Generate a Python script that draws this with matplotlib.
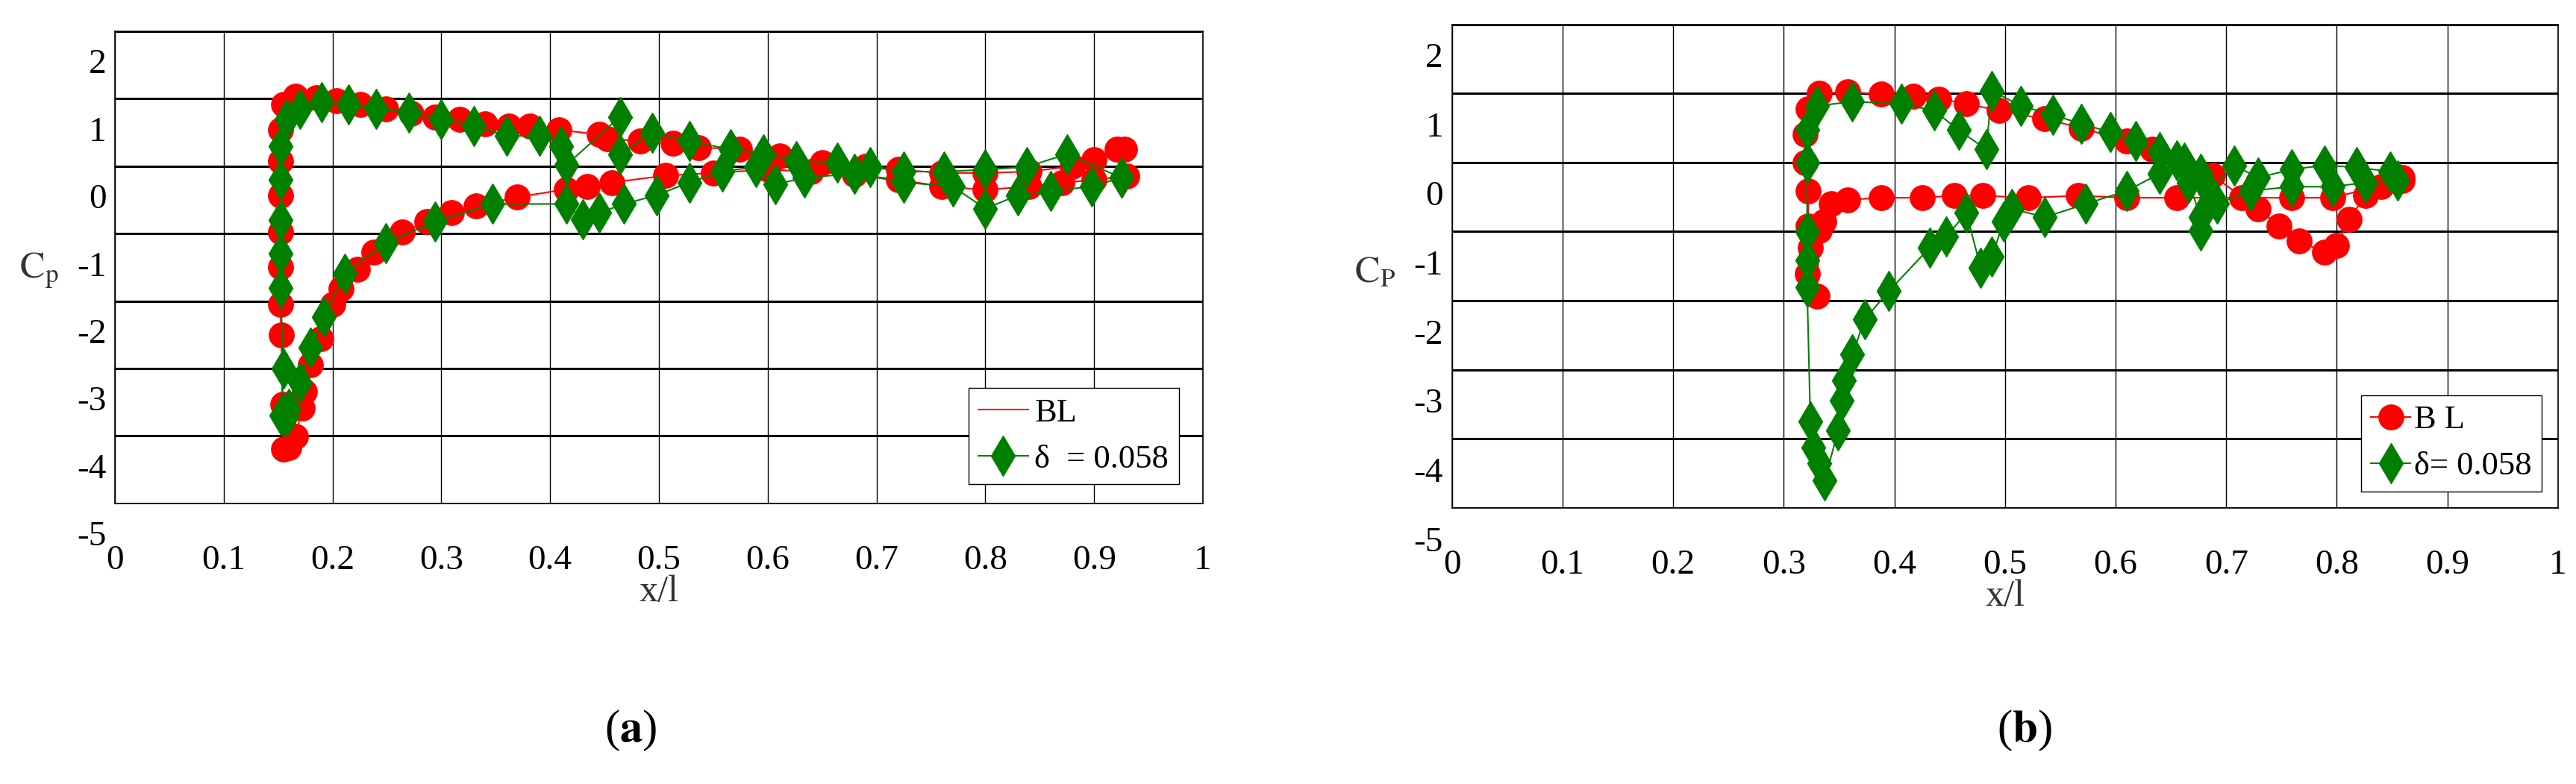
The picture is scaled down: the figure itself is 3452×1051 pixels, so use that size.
import matplotlib
matplotlib.use("Agg")
import matplotlib.pyplot as plt
import numpy as np

plt.rcParams['font.family'] = ['Liberation Serif', 'DejaVu Serif']
plt.rcParams['mathtext.fontset'] = 'stix'

# panel (a): baseline (red) and delta = 0.058 (green)
bl_a_x = [0.93, 0.90, 0.87, 0.84, 0.80, 0.76, 0.72, 0.68, 0.64, 0.60, 0.55, 0.506, 0.457, 0.434,
          0.415, 0.37, 0.332, 0.309, 0.287, 0.264, 0.238, 0.223, 0.208, 0.20, 0.189, 0.18, 0.174,
          0.172, 0.166, 0.16, 0.155, 0.154, 0.153, 0.152, 0.152, 0.152, 0.152, 0.152, 0.152, 0.155,
          0.166, 0.185, 0.204, 0.226, 0.249, 0.272, 0.294, 0.317, 0.34, 0.362, 0.381, 0.408, 0.445,
          0.453, 0.483, 0.513, 0.536, 0.574, 0.611, 0.65, 0.69, 0.72, 0.76, 0.80, 0.84, 0.88, 0.90,
          0.921, 0.928]
bl_a_y = [0.35, 0.30, 0.25, 0.20, 0.15, 0.20, 0.30, 0.38, 0.42, 0.45, 0.40, 0.36, 0.26, 0.20,
          0.16, 0.04, -0.09, -0.19, -0.32, -0.48, -0.77, -1.03, -1.32, -1.55, -2.06, -2.45, -2.84,
          -3.09, -3.51, -3.67, -3.70, -3.03, -2.0, -1.55, -1.0, -0.48, 0.07, 0.58, 1.04, 1.42,
          1.54, 1.52, 1.47, 1.42, 1.35, 1.28, 1.23, 1.20, 1.13, 1.10, 1.09, 1.04, 0.97,
          0.91, 0.87, 0.84, 0.78, 0.75, 0.65, 0.55, 0.50, 0.45, 0.40, 0.40, 0.42, 0.50, 0.60,
          0.75, 0.75]
d_a_x = [0.925, 0.898, 0.86, 0.83, 0.80, 0.77, 0.725, 0.68, 0.634, 0.607, 0.589, 0.558, 0.528,
         0.498, 0.468, 0.445, 0.43, 0.415, 0.347, 0.294, 0.249, 0.211, 0.192, 0.18, 0.17, 0.16,
         0.158, 0.153, 0.155, 0.152, 0.152, 0.152, 0.152, 0.152, 0.158, 0.17, 0.19, 0.215, 0.24,
         0.27, 0.30, 0.33, 0.36, 0.39, 0.41, 0.415, 0.464, 0.464, 0.494, 0.528, 0.566, 0.596,
         0.626, 0.664, 0.694, 0.725, 0.762, 0.80, 0.838, 0.875, 0.925]
d_a_y = [0.33, 0.20, 0.13, 0.07, -0.13, 0.20, 0.26, 0.39, 0.33, 0.23, 0.49, 0.42, 0.26,
         0.07, -0.06, -0.19, -0.29, -0.06, -0.06, -0.32, -0.64, -1.09, -1.74, -2.19, -2.71, -3.10,
         -3.22, -3.20, -2.50, -1.30, -0.80, -0.30, 0.30, 0.80, 1.20, 1.35, 1.45, 1.42, 1.35,
         1.30, 1.20, 1.10, 0.95, 0.95, 0.80, 0.52, 1.23, 0.68, 1.00, 0.87, 0.75, 0.68,
         0.58, 0.55, 0.49, 0.42, 0.42, 0.45, 0.49, 0.68, 0.33]

# panel (b)
bl_b_x = [0.859, 0.796, 0.759, 0.714, 0.655, 0.61, 0.566, 0.521, 0.48, 0.454, 0.425, 0.388,
          0.358, 0.343, 0.336, 0.332, 0.33, 0.321, 0.324, 0.322, 0.322, 0.319, 0.319, 0.322,
          0.332, 0.358, 0.388, 0.417, 0.44, 0.465, 0.495, 0.536, 0.569, 0.61, 0.633, 0.659,
          0.688, 0.729, 0.748, 0.766, 0.789, 0.80, 0.811, 0.826, 0.84, 0.859]
bl_b_y = [0.24, -0.01, -0.01, -0.01, -0.01, -0.01, 0.02, -0.01, 0.02, 0.02, -0.01, -0.01,
          -0.04, -0.10, -0.35, -0.48, -1.43, -1.11, -0.73, -0.42, 0.09, 0.50, 0.91, 1.28,
          1.50, 1.52, 1.49, 1.46, 1.42, 1.35, 1.25, 1.13, 1.00, 0.81, 0.69, 0.50,
          0.31, -0.17, -0.42, -0.64, -0.80, -0.70, -0.32, 0.02, 0.15, 0.28]
d_b_x = [0.855, 0.826, 0.796, 0.759, 0.722, 0.692, 0.677, 0.677, 0.666, 0.655, 0.64, 0.61,
         0.573, 0.536, 0.506, 0.499, 0.488, 0.478, 0.465, 0.447, 0.432, 0.395, 0.373, 0.362,
         0.354, 0.352, 0.349, 0.337, 0.332, 0.327, 0.324, 0.321, 0.321, 0.321, 0.321, 0.321,
         0.33, 0.362, 0.406, 0.436, 0.458, 0.483, 0.488, 0.514, 0.543, 0.569, 0.595, 0.618,
         0.64, 0.662, 0.677, 0.684, 0.707, 0.729, 0.759, 0.789, 0.818, 0.848]
d_b_y = [0.24, 0.21, 0.15, 0.15, 0.09, -0.10, -0.48, -0.29, 0.21, 0.53, 0.34, 0.09,
         -0.10, -0.29, -0.17, -0.35, -0.86, -1.02, -0.23, -0.57, -0.73, -1.36, -1.77, -2.28,
         -2.65, -2.94, -3.38, -4.10, -3.85, -3.63, -3.25, -1.30, -0.92, -0.51, 0.50, 0.97,
         1.32, 1.38, 1.35, 1.25, 0.97, 0.69, 1.54, 1.32, 1.19, 1.06, 0.94, 0.81,
         0.65, 0.50, 0.34, 0.09, 0.46, 0.28, 0.40, 0.46, 0.43, 0.37]

x_ticks = [0, 0.1, 0.2, 0.3, 0.4, 0.5, 0.6, 0.7, 0.8, 0.9, 1]
x_tick_labels = ['0', '0.1', '0.2', '0.3', '0.4', '0.5', '0.6', '0.7', '0.8', '0.9', '1']
y_tick_vals = [2, 1, 0, -1, -2, -3, -4, -5]

RED = '#ff0000'
GREEN = '#007f00'

fig = plt.figure(figsize=(34.52, 10.51), dpi=100)


def setup(ax):
    ax.set_xlim(0, 1)
    ax.set_ylim(-4.5, 2.5)
    ax.set_xticks(x_ticks)
    ax.set_xticklabels(x_tick_labels, fontsize=34)
    ax.set_yticks(np.arange(-4.5, 2.6, 1.0))
    ax.set_yticklabels([])
    ax.tick_params(length=0, pad=40)
    ax.grid(axis='x', color='black', lw=1.0)
    ax.grid(axis='y', color='black', lw=2.2)
    for s in ax.spines.values():
        s.set_linewidth(1.2)
    for v in y_tick_vals:
        ax.text(-0.008, v, str(v), transform=ax.get_yaxis_transform(), ha='right',
                va='center', fontsize=34, clip_on=False)
    ax.set_axisbelow(True)


ax1 = fig.add_axes([0.0446, 0.358, 0.4224, 0.602])
setup(ax1)
ax1.plot(bl_a_x, bl_a_y, color=RED, lw=1.5, marker='o', ms=24, mec=RED, mfc=RED, zorder=3)
ax1.plot(d_a_x, d_a_y, color=GREEN, lw=1.5, marker='d', ms=28, mec=GREEN, mfc=GREEN, zorder=4)
h1 = [plt.Line2D([], [], color=RED, lw=1.5),
      plt.Line2D([], [], color=GREEN, lw=1.5, marker='d', ms=28)]
ax1.legend(h1, ['BL', 'δ  = 0.058'], loc='lower right', bbox_to_anchor=(0.993, 0.005),
           fontsize=32, fancybox=False, edgecolor='black', framealpha=1, handlelength=1.5,
           handletextpad=0.2, borderpad=0.3)
ax1.set_ylabel(r'$\mathrm{C_p}$', fontsize=36, rotation=0, color='#333333')
ax1.yaxis.set_label_coords(-0.07, 0.45)
ax1.set_xlabel('x/l', fontsize=36, color='#333333', labelpad=-2)

ax2 = fig.add_axes([0.5637, 0.352, 0.4293, 0.617])
setup(ax2)
ax2.plot(bl_b_x, bl_b_y, color=RED, lw=1.5, marker='o', ms=24, mec=RED, mfc=RED, zorder=3)
ax2.plot(d_b_x, d_b_y, color=GREEN, lw=1.5, marker='d', ms=28, mec=GREEN, mfc=GREEN, zorder=4)
h2 = [plt.Line2D([], [], color=RED, lw=1.5, marker='o', ms=24),
      plt.Line2D([], [], color=GREEN, lw=1.5, marker='d', ms=28)]
ax2.legend(h2, ['B L', 'δ= 0.058'], loc='lower right', bbox_to_anchor=(1.0, 0.0),
           fontsize=32, fancybox=False, edgecolor='black', framealpha=1, handlelength=1.2,
           handletextpad=0.1, borderpad=0.3)
ax2.set_ylabel(r'$\mathrm{C_P}$', fontsize=36, rotation=0, color='#333333')
ax2.yaxis.set_label_coords(-0.07, 0.45)
ax2.set_xlabel('x/l', fontsize=36, color='#333333', labelpad=-2)

fig.text(845 / 3452, 1 - 979 / 1051, r'($\mathbf{a}$)', fontsize=44, ha='center', va='center')
fig.text(2713 / 3452, 1 - 979 / 1051, r'($\mathbf{b}$)', fontsize=44, ha='center', va='center')

fig.savefig('out.png', dpi=100)
